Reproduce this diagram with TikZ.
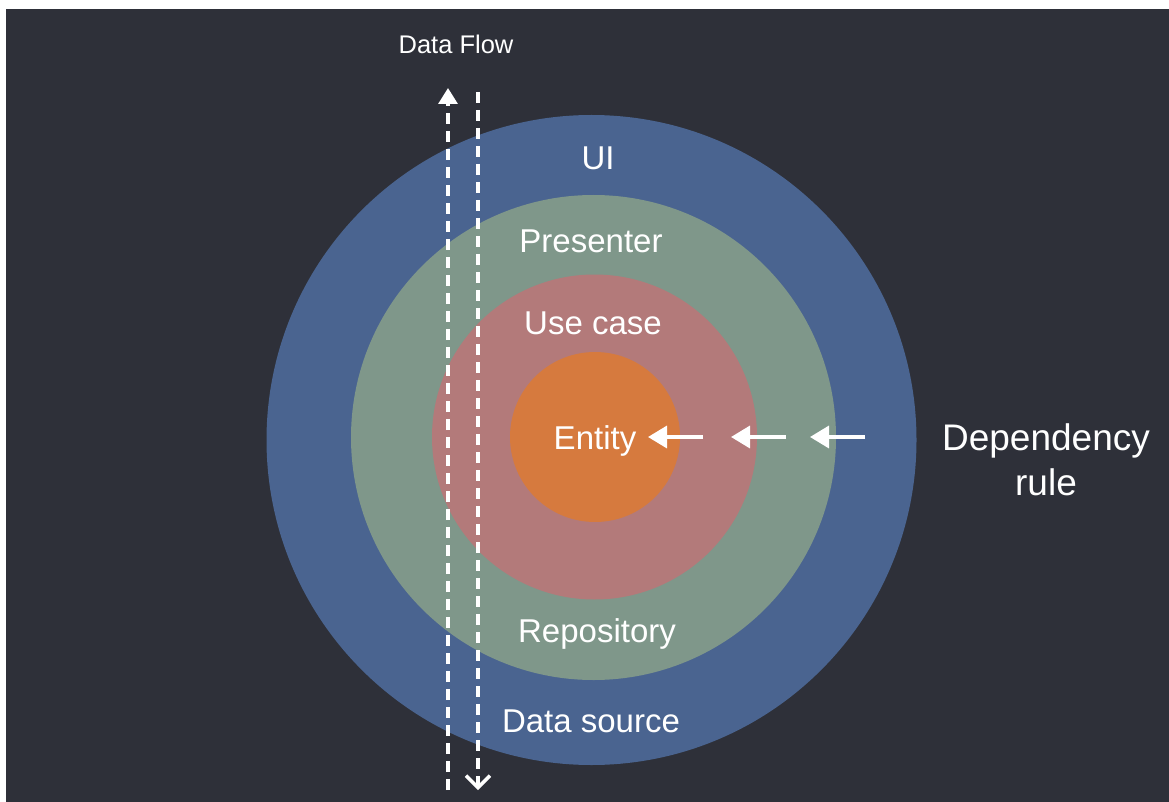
\documentclass[tikz,border=0pt]{standalone}
\usepackage{fontspec}
\setmainfont{Liberation Sans}
\usetikzlibrary{arrows.meta}
\definecolor{bgdark}{HTML}{2E3039}
\definecolor{layerui}{HTML}{4A6490}
\definecolor{layerpres}{HTML}{7F978A}
\definecolor{layeruse}{HTML}{B37A7A}
\definecolor{layerent}{HTML}{D67A3E}

\begin{document}
\begin{tikzpicture}[x=1pt, y=-1pt, every node/.style={text=white, font=\fontsize{33}{40}\selectfont},
  ring/.style={circle, inner sep=0pt, minimum size=#1},
  lbl/.style={anchor=base},
  flow/.style={draw=white, line width=3.2pt, dash pattern=on 11pt off 7pt},
  dep/.style={draw=white, line width=3.5pt, -{Triangle[length=19pt, width=22pt]}}]
  \useasboundingbox (0,0) rectangle (1169,802);
  \fill[white] (0,0) rectangle (1169,802);
  \fill[bgdark] (6,9) rectangle (1169,802);
  % layers
  \node[ring=650pt, fill=layerui] (ui) at (591.5,440) {};
  \node[ring=485pt, fill=layerpres] (pres) at (593.5,437.5) {};
  \node[ring=325pt, fill=layeruse] (usecase) at (594.5,437) {};
  \node[ring=170pt, fill=layerent] (entity) at (595,437) {};
  % labels
  \node[lbl] (uitxt) at (598,170) {UI};
  \node[lbl] (prestxt) at (591,253) {Presenter};
  \node[lbl] (usetxt) at (593,334) {Use case};
  \node[lbl] (enttxt) at (595,449) {Entity};
  \node[lbl] (repotxt) at (597,642) {Repository};
  \node[lbl] (srctxt) at (591,732) {Data source};
  \node[align=center, font=\fontsize{37}{45}\selectfont] (deprule) at (1046,460) {Dependency\\rule};
  \node[lbl, font=\fontsize{25.5}{30}\selectfont] (flowtxt) at (456,54) {Data Flow};
  % data flow
  \coordinate (upbot) at (448,790);
  \coordinate (uptop) at (448,88);
  \coordinate (dntop) at (478,92);
  \coordinate (dnbot) at (478,790);
  \draw[flow, -{Triangle[length=16pt, width=19pt]}] (upbot) -- (uptop);
  \draw[flow, -{Straight Barb[length=12pt, width=24pt, line width=3.5pt]}] (dntop) -- (dnbot);
  % dependency rule
  \foreach \xs/\xe [count=\i] in {703/648, 786/731, 865/810} {
    \coordinate (ds\i) at (\xs,437);
    \coordinate (de\i) at (\xe,437);
    \draw[dep] (ds\i) -- (de\i);
  }
\end{tikzpicture}
\end{document}
